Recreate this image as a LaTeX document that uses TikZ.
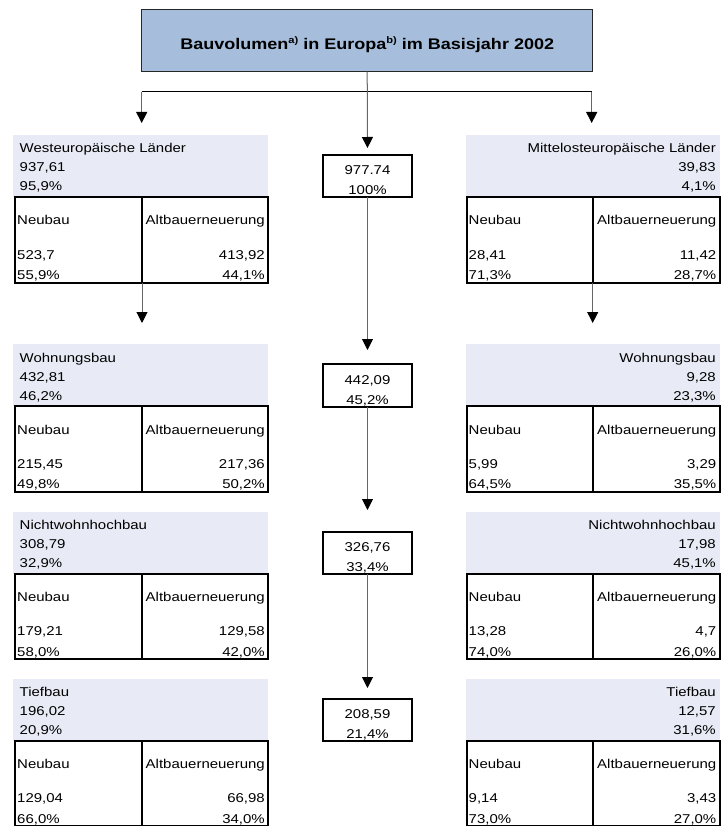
\documentclass[tikz,border=0pt]{standalone}
\usepackage{fontspec}
\setmainfont{Liberation Sans}[FakeStretch=1.17]
\usepackage{tikz}
\usetikzlibrary{positioning, arrows.meta}
\definecolor{T1}{HTML}{A6BDDB}
\definecolor{P1}{HTML}{E8EBF5}
\newcommand{\sups}[1]{\raisebox{5.5pt}{\fontsize{9.5}{9.5}\selectfont #1}}
% west block: name, top, heading, total, share, new, new share, old, old share
\newcommand{\westblock}[9]{%
  \begin{scope}[shift={(0,#2)}]
    \node[panel, minimum width=255pt] (#1) at (13,0) {};
    \node[tab, minimum width=253pt] (#1tab) at (15,62) {};
    \draw[tabline] (142,62) -- (142,147.5);
    \coordinate (#1div) at (142,147.5);
    \node[txt, anchor=base west] (#1head) at (19.5,18) {#3};
    \node[txt, anchor=base west] (#1sum) at (19.5,37) {#4};
    \node[txt, anchor=base west] (#1pct) at (19.5,56) {#5};
    \node[txt, anchor=base west] (#1neu) at (17,90) {Neubau};
    \node[txt, anchor=base west] (#1neuv) at (17,124) {#6};
    \node[txt, anchor=base west] (#1neup) at (17,144.5) {#7};
    \node[txt, anchor=base east] (#1alt) at (265,90) {Altbauerneuerung};
    \node[txt, anchor=base east] (#1altv) at (265,124) {#8};
    \node[txt, anchor=base east] (#1altp) at (265,144.5) {#9};
  \end{scope}}
% east block: same arguments, text set to the right
\newcommand{\eastblock}[9]{%
  \begin{scope}[shift={(0,#2)}]
    \node[panel, minimum width=253.5pt] (#1) at (466,0) {};
    \node[tab, minimum width=253pt] (#1tab) at (466.5,62) {};
    \draw[tabline] (592.7,62) -- (592.7,147.5);
    \coordinate (#1div) at (592.7,147.5);
    \node[txt, anchor=base east] (#1head) at (716,18) {#3};
    \node[txt, anchor=base east] (#1sum) at (716,37) {#4};
    \node[txt, anchor=base east] (#1pct) at (716,56) {#5};
    \node[txt, anchor=base west] (#1neu) at (468.5,90) {Neubau};
    \node[txt, anchor=base west] (#1neuv) at (468.5,124) {#6};
    \node[txt, anchor=base west] (#1neup) at (468.5,144.5) {#7};
    \node[txt, anchor=base east] (#1alt) at (716.5,90) {Altbauerneuerung};
    \node[txt, anchor=base east] (#1altv) at (716.5,124) {#8};
    \node[txt, anchor=base east] (#1altp) at (716.5,144.5) {#9};
  \end{scope}}
% middle box: name, top, total, share
\newcommand{\sumbox}[4]{%
  \begin{scope}[shift={(0,#2)}]
    \node[sbox] (#1) at (367.5,20) {};
    \node[txt, anchor=base] (#1v) at (367.5,40) {#3};
    \node[txt, anchor=base] (#1p) at (367.5,60) {#4};
  \end{scope}}

\begin{document}
\begin{tikzpicture}[
  x=1pt, y=-1pt,
  txt/.style = {inner sep=0pt, font=\fontsize{12.8}{15}\selectfont},
  panel/.style = {fill=P1, draw=none, inner sep=0pt, outer sep=0pt, anchor=north west, minimum height=62pt},
  tab/.style = {draw=black, line width=2pt, inner sep=0pt, outer sep=0pt, anchor=north west, minimum height=85.5pt},
  tabline/.style = {draw=black, line width=2pt},
  sbox/.style = {draw=black, line width=2pt, fill=white, inner sep=0pt, outer sep=0pt, anchor=north, minimum width=89.6pt, minimum height=42.5pt},
  titlebox/.style = {draw=black!85, fill=T1, line width=1.3pt, inner sep=0pt, outer sep=0pt, minimum width=451pt, minimum height=62.4pt},
  conn/.style = {draw=black!60, line width=1pt, -{Triangle[width=11pt, length=11pt, color=black, fill=black]}},
  hline/.style = {draw=black, line width=1pt}
]
  \useasboundingbox (0,0) rectangle (727,826);

  % Title
  \node[titlebox] (title) at (367.2,40.5) {};
  \node[inner sep=0pt, anchor=base, font=\fontsize{15.4}{18}\selectfont\bfseries] (titletext) at (367.2,49.3)
    {Bauvolumen\sups{a)} in Europa\sups{b)} im Basisjahr 2002};

  % Blocks
  \westblock{west}{135}{Westeurop\"aische L\"ander}{937,61}{95,9\%}{523,7}{55,9\%}{413,92}{44,1\%}
  \eastblock{east}{135}{Mittelosteurop\"aische L\"ander}{39,83}{4,1\%}{28,41}{71,3\%}{11,42}{28,7\%}
  \sumbox{tot}{135}{977.74}{100\%}

  \westblock{wohnw}{344}{Wohnungsbau}{432,81}{46,2\%}{215,45}{49,8\%}{217,36}{50,2\%}
  \eastblock{wohne}{344}{Wohnungsbau}{9,28}{23,3\%}{5,99}{64,5\%}{3,29}{35,5\%}
  \sumbox{wohn}{344}{442,09}{45,2\%}

  \westblock{nwhw}{511.5}{Nichtwohnhochbau}{308,79}{32,9\%}{179,21}{58,0\%}{129,58}{42,0\%}
  \eastblock{nwhe}{511.5}{Nichtwohnhochbau}{17,98}{45,1\%}{13,28}{74,0\%}{4,7}{26,0\%}
  \sumbox{nwh}{511.5}{326,76}{33,4\%}

  \westblock{tiefw}{678.5}{Tiefbau}{196,02}{20,9\%}{129,04}{66,0\%}{66,98}{34,0\%}
  \eastblock{tiefe}{678.5}{Tiefbau}{12,57}{31,6\%}{9,14}{73,0\%}{3,43}{27,0\%}
  \sumbox{tief}{678.5}{208,59}{21,4\%}

  % Edges
  \coordinate (wsplit) at (141.7,92);
  \coordinate (esplit) at (591.7,92);
  \draw[hline] (wsplit) -- (esplit);
  \draw[conn, shorten >=12pt] (wsplit) -- (wsplit |- west.north);
  \draw[conn, shorten >=12pt] (esplit) -- (esplit |- east.north);
  \draw[conn, shorten >=7pt] (title.south) -- (tot.north);
  \draw[conn, shorten >=14pt] (tot.south) -- (wohn.north);
  \draw[conn, shorten >=21.5pt] (wohn.south) -- (nwh.north);
  \draw[conn, shorten >=10.5pt] (nwh.south) -- (tief.north);
  \draw[conn, shorten >=21pt] (westdiv) -- (westdiv |- wohnw.north);
  \draw[conn, shorten >=21pt] (eastdiv) -- (eastdiv |- wohne.north);
\end{tikzpicture}
\end{document}
